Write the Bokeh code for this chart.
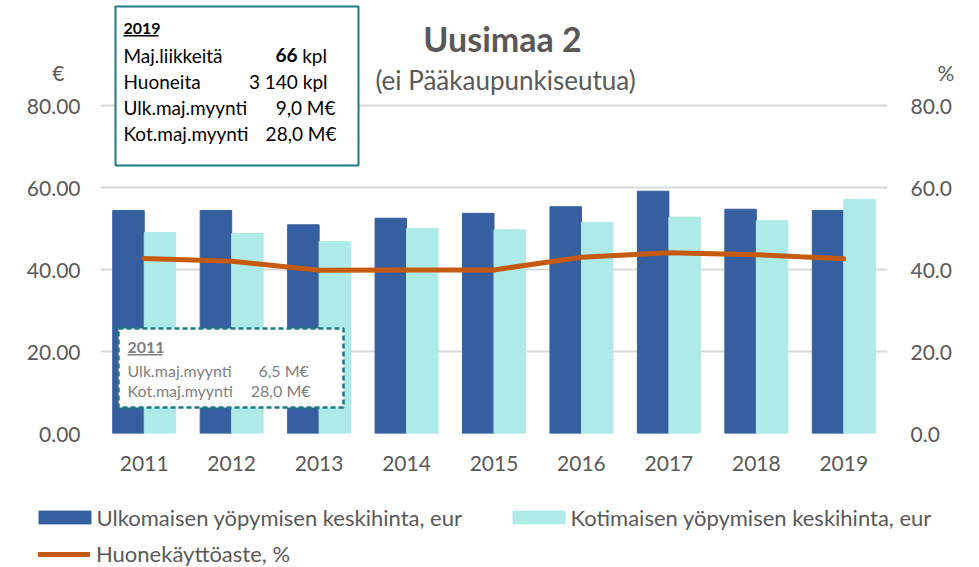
from bokeh.plotting import figure
from bokeh.models import (ColumnDataSource, FactorRange, Range1d, LinearAxis, FixedTicker,
                          NumeralTickFormatter, Legend, LegendItem, Label, BoxAnnotation)
from bokeh.transform import dodge
from bokeh.embed import file_html
from bokeh.resources import INLINE

# ---- data ----
years = ["2011", "2012", "2013", "2014", "2015", "2016", "2017", "2018", "2019"]
ulk_price = [54.4, 54.4, 50.9, 52.5, 53.7, 55.3, 59.1, 54.7, 54.4]   # Ulkomaisen yöpymisen keskihinta, eur
kot_price = [49.0, 48.8, 46.8, 50.0, 49.7, 51.5, 52.8, 51.9, 57.1]   # Kotimaisen yöpymisen keskihinta, eur
occupancy = [42.7, 42.0, 39.8, 39.9, 39.9, 43.0, 44.1, 43.6, 42.6]  # Huonekäyttöaste, %
y_ticks = [0, 20, 40, 60, 80]
unit_left = "€"
unit_right = "%"
series_names = ["Ulkomaisen yöpymisen keskihinta, eur",
                "Kotimaisen yöpymisen keskihinta, eur",
                "Huonekäyttöaste, %"]

title_text = "Uusimaa 2"
subtitle_text = "(ei Pääkaupunkiseutua)"
box2019_title = "2019"
box2019_rows = [("Maj.liikkeitä", "66", "kpl"), ("Huoneita", "3 140 kpl", None),
                ("Ulk.maj.myynti", "9,0 M€", None), ("Kot.maj.myynti", "28,0 M€", None)]
box2011_title = "2011"
box2011_rows = [("Ulk.maj.myynti", "6,5 M€"), ("Kot.maj.myynti", "28,0 M€")]

# ---- style ----
DARK = "#365F9F"
LIGHT = "#AEEAE8"
ORANGE = "#C55A11"
GRID = "#D9D9D9"
TEAL = "#1E7B82"
TXT = "#595959"
GREY = "#7F7F7F"
FONT = "Lato"

W = 979
H1, H2 = 490, 77
Y_END = 433 / 4.1
UNIT_POS = 88          # vertical position of the unit labels (€ / %) above the axes
NB = "\u00a0"

src = ColumnDataSource(dict(year=years, ulk=ulk_price, kot=kot_price, occ=occupancy))


def add_series(fig, xr):
    r1 = fig.vbar(x=dodge("year", -0.18, range=xr), top="ulk", width=0.36, source=src,
                  fill_color=DARK, line_color=DARK)
    r2 = fig.vbar(x=dodge("year", 0.18, range=xr), top="kot", width=0.36, source=src,
                  fill_color=LIGHT, line_color=LIGHT)
    r3 = fig.line(x="year", y="occ", source=src, line_color=ORANGE,
                  line_width=5, line_cap="round", line_join="round",
                  **({"y_range_name": "pct"} if "pct" in fig.extra_y_ranges else {}))
    return r1, r2, r3


# ---- main chart ----
p = figure(x_range=FactorRange(*years), y_range=Range1d(0, Y_END), width=W, height=H1,
           output_backend="svg", toolbar_location=None,
           min_border_left=100, min_border_right=92, min_border_top=0, min_border_bottom=57)
p.outline_line_color = None
p.background_fill_color = "white"
p.border_fill_color = "white"
p.extra_y_ranges = {"pct": Range1d(0, Y_END)}
add_series(p, p.x_range)

# axes (the unit symbols are shown as an extra tick label at the top of each axis)
p.yaxis.ticker = FixedTicker(ticks=y_ticks + [UNIT_POS])
p.yaxis.formatter = NumeralTickFormatter(format="0.00")
p.yaxis.major_label_overrides = {UNIT_POS: unit_left + NB * 3}
ax_r = LinearAxis(y_range_name="pct", ticker=FixedTicker(ticks=y_ticks + [UNIT_POS]),
                  formatter=NumeralTickFormatter(format="0.0"))
ax_r.major_label_overrides = {UNIT_POS: NB * 5 + unit_right}
p.add_layout(ax_r, "right")
for ax in [p.yaxis[0], ax_r, p.xaxis[0]]:
    ax.axis_line_color = None
    ax.major_tick_line_color = None
    ax.minor_tick_line_color = None
    ax.major_tick_out = 0
    ax.major_tick_in = 0
    ax.major_label_text_font = FONT
    ax.major_label_text_color = TXT
    ax.major_label_text_font_size = "21px"
p.yaxis[0].major_label_standoff = 20
ax_r.major_label_standoff = 23
p.xaxis[0].major_label_standoff = 22

p.xgrid.grid_line_color = None
p.ygrid.grid_line_color = GRID
p.ygrid.grid_line_width = 2
p.ygrid.ticker = FixedTicker(ticks=y_ticks)


# helpers to convert reference pixel positions into data coordinates
def px_x(px):
    return (px - 100) / 87.44


def px_y(py):
    return (433 - py) / 4.1


def lab(x, y, text, size, color, style="normal", align="left"):
    p.add_layout(Label(x=px_x(x), y=px_y(y), text=text, text_font=FONT,
                       text_font_size=size, text_color=color, text_font_style=style,
                       text_align=align, text_baseline="middle"))


def box(l, r, t, b, fill, line=None, width=0, dash="solid"):
    p.add_layout(BoxAnnotation(left=px_x(l), right=px_x(r), top=px_y(t), bottom=px_y(b),
                               fill_color=fill, fill_alpha=1,
                               line_color=line, line_alpha=1, line_width=width,
                               line_dash=dash))


# title
lab(502, 38, title_text, "34px", TXT, "bold", "center")
lab(505, 79, subtitle_text, "26px", TXT, "normal", "center")

# 2019 info box
box(115, 358, 6, 165, "white", TEAL, 2)
lab(123, 28, box2019_title, "16px", "#000000", "bold")
box(123, 158, 34.5, 36, "#000000")
centers = [54.5, 81, 106.5, 132.5]
ends = [327, 327, 335, 336]
for (name, val, unit), cy, ex in zip(box2019_rows, centers, ends):
    lab(123, cy, name, "19px", "#000000")
    if unit:
        lab(297, cy, val, "19px", "#000000", "bold", "right")
        lab(301.7, cy, unit, "19px", "#000000")
    else:
        lab(ex, cy, val, "19px", "#000000", "normal", "right")

# 2011 info box
box(118, 343, 328, 407, "white", TEAL, 2.5, "5 3")
lab(127, 347, box2011_title, "16px", GREY, "bold")
box(127, 162, 353.5, 355, GREY)
for (name, val), cy, ex in zip(box2011_rows, [369.5, 389.5], [308.3, 310]):
    lab(127, cy, name, "16px", GREY)
    lab(ex, cy, val, "16px", GREY, "normal", "right")

# ---- legend strip: a second root below the chart; its series sit outside its view ----
xr2 = FactorRange(*years)
p2 = figure(x_range=xr2, y_range=Range1d(200, 200 + H2), width=W, height=H2,
            output_backend="svg", toolbar_location=None, x_axis_type=None, y_axis_type=None,
            min_border=0)
p2.outline_line_color = None
p2.xgrid.grid_line_color = None
p2.ygrid.grid_line_color = None
r1, r2, r3 = add_series(p2, xr2)

common = dict(padding=0, margin=0, border_line_color=None, background_fill_alpha=0,
              label_text_font=FONT, label_text_font_size="22px", label_text_color=TXT,
              label_height=24, glyph_height=16, orientation="horizontal")
leg1 = Legend(items=[LegendItem(label=series_names[0], renderers=[r1]),
                     LegendItem(label=series_names[1], renderers=[r2])],
              location=(31.5, 36.5),
              glyph_width=65, label_standoff=0, label_width=400, spacing=9, **common)
leg2 = Legend(items=[LegendItem(label=series_names[2], renderers=[r3])],
              location=(38, 0),
              glyph_width=52, label_standoff=6, spacing=0, **common)
p2.add_layout(leg1, "center")
p2.add_layout(leg2, "center")

open("out.html", "w").write(file_html([p, p2], INLINE))
